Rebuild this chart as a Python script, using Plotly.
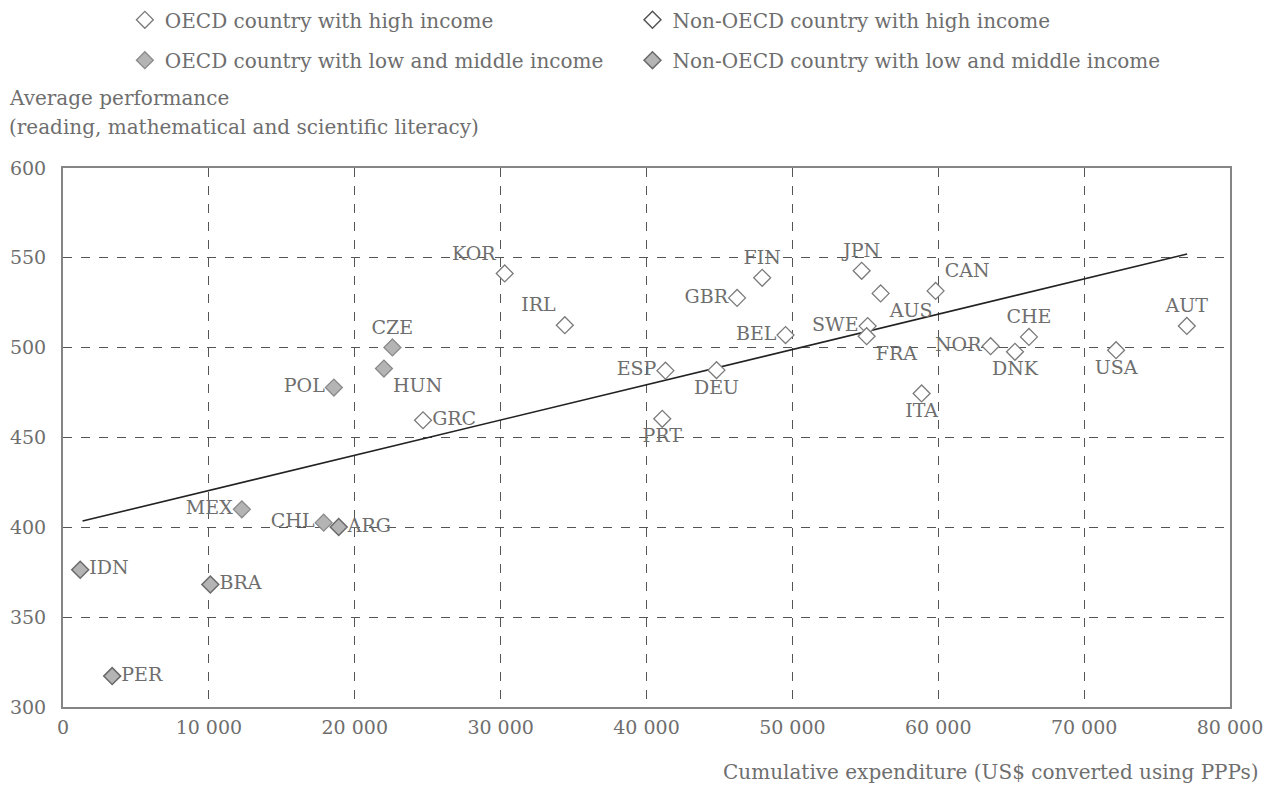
import plotly.graph_objects as go

# ---- data ----
oecd_high_codes = ["GRC", "KOR", "IRL", "ESP", "PRT", "DEU", "GBR", "FIN", "BEL", "JPN",
                   "AUS", "SWE", "FRA", "CAN", "ITA", "NOR", "DNK", "CHE", "USA", "AUT"]
oecd_high_x = [24680, 30280, 34400, 41300, 41080, 44800, 46210, 47930, 49530, 54750,
               56050, 55160, 55090, 59820, 58860, 63590, 65260, 66220, 72190, 77040]
oecd_high_y = [459.6, 541.3, 512.5, 487.2, 460.4, 487.5, 527.7, 538.9, 507.0, 542.8,
               530.2, 512.0, 506.4, 531.6, 474.5, 500.8, 497.7, 506.0, 498.6, 512.1]

oecd_low_codes = ["POL", "HUN", "CZE", "MEX", "CHL"]
oecd_low_x = [18570, 22000, 22580, 12260, 17870]
oecd_low_y = [477.8, 488.4, 500.1, 410.0, 402.6]

nonoecd_low_codes = ["IDN", "BRA", "PER", "ARG"]
nonoecd_low_x = [1180, 10100, 3370, 18900]
nonoecd_low_y = [376.4, 368.2, 317.2, 400.2]

trend_x = [1340, 77060]
trend_y = [403.5, 552.1]

x_tick_values = [0, 10000, 20000, 30000, 40000, 50000, 60000, 70000, 80000]
x_tick_labels = ["0", "10 000", "20 000", "30 000", "40 000", "50 000", "60 000", "70 000", "80 000"]
y_tick_values = [300, 350, 400, 450, 500, 550, 600]

legend_names = ["OECD country with high income", "Non-OECD country with high income",
                "OECD country with low and middle income", "Non-OECD country with low and middle income"]

# ---- styles ----
label_pos = {
    "IDN": "middle right", "BRA": "middle right", "PER": "middle right", "MEX": "middle left",
    "CHL": "middle left", "ARG": "middle right", "POL": "middle left", "HUN": "bottom right",
    "CZE": "top center", "GRC": "middle right", "KOR": "top left", "IRL": "top left",
    "ESP": "middle left", "PRT": "bottom center", "DEU": "bottom center", "GBR": "middle left",
    "FIN": "top center", "BEL": "middle left", "JPN": "top center", "AUS": "bottom right",
    "SWE": "middle left", "FRA": "bottom right", "CAN": "top right", "ITA": "bottom center",
    "NOR": "middle left", "DNK": "bottom center", "CHE": "top center", "USA": "bottom center",
    "AUT": "top center",
}
FONT = "DejaVu Serif"
TXT = "#6e6e6e"
GRID = "#555555"

open_marker = dict(symbol="diamond", size=13, color="white", line=dict(color="#7a7a7a", width=1.3))
fill_marker = dict(symbol="diamond", size=13, color="#b4b4b4", line=dict(color="#8a8a8a", width=1.3))
label_font = dict(family=FONT, size=19, color=TXT)
big_font = dict(family=FONT, size=20, color=TXT)

fig = go.Figure()

fig.add_trace(go.Scatter(
    x=trend_x, y=trend_y, mode="lines", line=dict(color="#222222", width=1.6),
    showlegend=False, hoverinfo="skip"))

fig.add_trace(go.Scatter(
    x=oecd_high_x, y=oecd_high_y, mode="markers+text", text=oecd_high_codes,
    textposition=[label_pos[c] for c in oecd_high_codes], textfont=label_font,
    marker=open_marker, name=legend_names[0], legend="legend"))

fig.add_trace(go.Scatter(
    x=[None], y=[None], mode="markers", marker=dict(open_marker, line=dict(color="#555555", width=1.5)),
    name=legend_names[1], legend="legend2"))

fig.add_trace(go.Scatter(
    x=oecd_low_x, y=oecd_low_y, mode="markers+text", text=oecd_low_codes,
    textposition=[label_pos[c] for c in oecd_low_codes], textfont=label_font,
    marker=fill_marker, name=legend_names[2], legend="legend3"))

fig.add_trace(go.Scatter(
    x=nonoecd_low_x, y=nonoecd_low_y, mode="markers+text", text=nonoecd_low_codes,
    textposition=[label_pos[c] for c in nonoecd_low_codes], textfont=label_font,
    marker=dict(fill_marker, line=dict(color="#6a6a6a", width=1.5)), name=legend_names[3], legend="legend4"))

axis_common = dict(
    showgrid=True, gridcolor=GRID, griddash="dash", gridwidth=1,
    showline=True, linecolor="#858585", linewidth=2, mirror=True,
    zeroline=False, ticks="", tickfont=dict(family=FONT, size=19, color=TXT),
)

legend_common = dict(orientation="h", xanchor="left", yanchor="middle",
                     itemwidth=30, font=big_font, bgcolor="rgba(0,0,0,0)")
col1_x, col2_x = 0.053, 0.488
row1_y, row2_y = 1.275, 1.2

fig.update_layout(
    width=1273, height=785,
    paper_bgcolor="white", plot_bgcolor="white",
    margin=dict(l=63, r=43, t=168, b=78, autoexpand=False),
    font=dict(family=FONT, color=TXT),
    xaxis=dict(axis_common, range=[0, 80000], tickvals=x_tick_values, ticktext=x_tick_labels,
               ticklabelstandoff=2),
    yaxis=dict(axis_common, range=[300, 600], tickvals=y_tick_values, ticklabelstandoff=11),
    legend=dict(legend_common, x=col1_x, y=row1_y),
    legend2=dict(legend_common, x=col2_x, y=row1_y),
    legend3=dict(legend_common, x=col1_x, y=row2_y),
    legend4=dict(legend_common, x=col2_x, y=row2_y),
    annotations=[
        dict(text="Average performance", xref="paper", yref="paper", x=-0.0476, y=1.13,
             xanchor="left", yanchor="middle", showarrow=False, font=big_font),
        dict(text="(reading, mathematical and scientific literacy)", xref="paper", yref="paper",
             x=-0.0476, y=1.076, xanchor="left", yanchor="middle", showarrow=False, font=big_font),
        dict(text="Cumulative expenditure (US$ converted using PPPs)", xref="paper", yref="paper",
             x=1.0265, y=-0.12, xanchor="right", yanchor="middle", showarrow=False, font=big_font),
    ],
)

fig.write_html("out.html", config={"displayModeBar": False},
               post_script="document.body.style.margin='0px';")
